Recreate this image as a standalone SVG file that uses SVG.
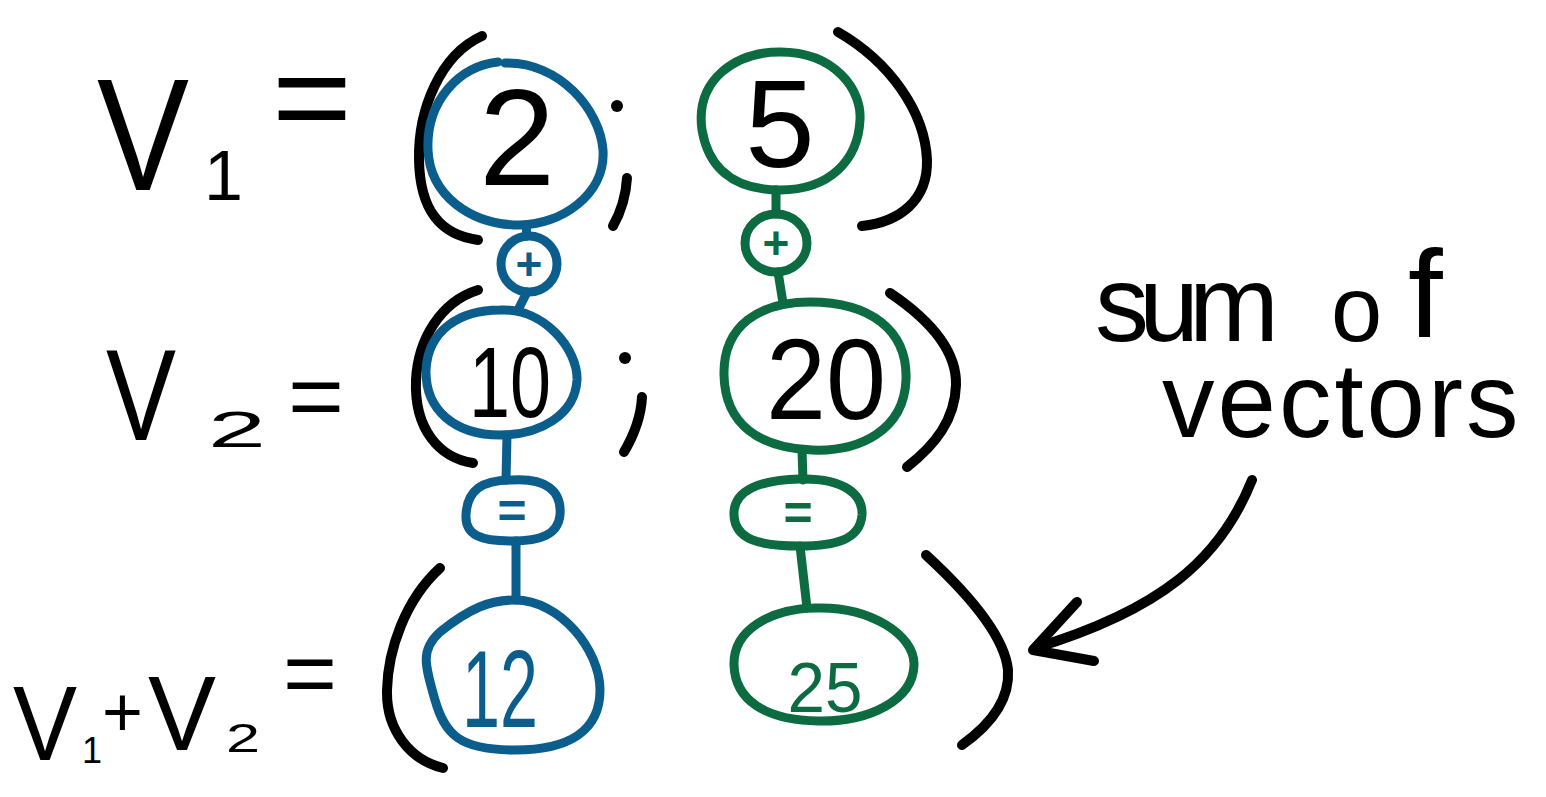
<svg xmlns="http://www.w3.org/2000/svg" width="1546" height="797" viewBox="0 0 1546 797">
<style>
.ink{fill:none;stroke:#000;stroke-width:10;stroke-linecap:round;stroke-linejoin:round}
.b{fill:none;stroke:#0b5d8c;stroke-width:9;stroke-linecap:round;stroke-linejoin:round}
.g{fill:none;stroke:#0c6b40;stroke-width:9;stroke-linecap:round;stroke-linejoin:round}
text{font-family:"Liberation Sans","DejaVu Sans",sans-serif}
.t{fill:#000}
.tb{fill:#0b5d8c}
.tg{fill:#0c6b40}
</style>
<rect width="1546" height="797" fill="#fff"/>

<g id="labels">
  <text class="t" x="97" y="190" font-size="160" textLength="92" lengthAdjust="spacingAndGlyphs">V</text>
  <text class="t" x="204" y="200" font-size="70">1</text>
  <text class="t" x="272" y="142" font-size="130" textLength="80" lengthAdjust="spacingAndGlyphs">=</text>

  <text class="t" x="106" y="440" font-size="130" textLength="70" lengthAdjust="spacingAndGlyphs">V</text>
  <text class="t" x="208" y="447" font-size="50" textLength="58" lengthAdjust="spacingAndGlyphs">2</text>
  <text class="t" x="288" y="427" font-size="90" textLength="56" lengthAdjust="spacingAndGlyphs">=</text>

  <text class="t" x="13" y="760" font-size="105" textLength="64" lengthAdjust="spacingAndGlyphs">V</text>
  <text class="t" x="82" y="763" font-size="36">1</text>
  <text class="t" x="102" y="736" font-size="70">+</text>
  <text class="t" x="148" y="750" font-size="105" textLength="68" lengthAdjust="spacingAndGlyphs">V</text>
  <text class="t" x="226" y="752" font-size="40" textLength="34" lengthAdjust="spacingAndGlyphs">2</text>
  <text class="t" x="283" y="704" font-size="90" textLength="54" lengthAdjust="spacingAndGlyphs">=</text>
</g>

<g id="brackets">
  <path class="ink" d="M482 36 C440 55 418 110 419 160 C420 210 440 235 478 240"/>
  <path class="ink" d="M838 32 C890 62 925 112 927 160 C928 200 900 222 862 226"/>
  <path class="ink" d="M478 290 C440 302 418 340 416 380 C414 430 440 458 473 463"/>
  <path class="ink" d="M890 293 C930 320 957 350 956 385 C955 420 935 445 907 467"/>
  <path class="ink" d="M440 568 C405 600 388 650 387 690 C386 730 410 760 443 768"/>
  <path class="ink" d="M926 555 C975 600 1005 640 1008 670 C1010 700 990 725 962 745"/>
  <circle cx="617" cy="106" r="6" fill="#000"/>
  <path class="ink" d="M627 178 C626 195 622 210 613 226"/>
  <circle cx="625" cy="358" r="6" fill="#000"/>
  <path class="ink" d="M642 397 C641 418 634 435 624 452"/>
</g>

<g id="connectors">
  <path class="b" d="M526 225 L527 236"/>
  <path class="b" d="M527 292 L518 310"/>
  <path class="b" d="M507 435 L506 480"/>
  <path class="b" d="M516 541 L516 600"/>
  <path class="g" d="M776 190 L776 214"/>
  <path class="g" d="M778 272 L783 303"/>
  <path class="g" d="M802 450 L803 480"/>
  <path class="g" d="M800 546 L807 608"/>
</g>

<g id="node-v1x">
  <path class="b" d="M505 63 C560 62 600 110 603 150 C606 195 560 225 520 225 C470 225 430 195 428 150 C426 100 460 66 498 62"/>
  <text class="t" x="517" y="185" font-size="137" text-anchor="middle">2</text>
</g>
<g id="node-plus-x">
  <ellipse class="b" cx="529" cy="264" rx="28" ry="28"/>
  <text class="tb" x="529" y="280" font-size="46" font-weight="bold" text-anchor="middle">+</text>
</g>
<g id="node-v2x">
  <path class="b" d="M500 310 C545 308 578 350 577 380 C575 415 540 435 500 435 C455 435 425 410 426 370 C428 330 460 310 500 310 Z"/>
  <text class="t" x="510" y="417" font-size="100" text-anchor="middle" textLength="82" lengthAdjust="spacingAndGlyphs">10</text>
</g>
<g id="node-eq-x">
  <path class="b" d="M512 480 C545 478 562 490 560 515 C558 535 540 541 512 541 C480 541 465 535 466 515 C467 490 482 480 512 480 Z"/>
  <text class="tb" x="512" y="528" font-size="50" font-weight="bold" text-anchor="middle">=</text>
</g>
<g id="node-sum-x">
  <path class="b" d="M515 600 C560 600 600 650 600 690 C600 730 570 750 515 750 C460 750 445 735 435 700 C425 665 420 650 440 632 C470 608 490 600 515 600 Z"/>
  <text class="tb" x="500" y="727" font-size="110" text-anchor="middle" textLength="76" lengthAdjust="spacingAndGlyphs">12</text>
</g>

<g id="node-v1y">
  <path class="g" d="M780 52 C835 52 862 90 860 120 C858 160 830 190 780 190 C730 190 708 165 702 130 C695 80 735 52 780 52 Z"/>
  <text class="t" x="780" y="167" font-size="125" text-anchor="middle">5</text>
</g>
<g id="node-plus-y">
  <ellipse class="g" cx="776" cy="243" rx="31" ry="29"/>
  <text class="tg" x="776" y="259" font-size="46" font-weight="bold" text-anchor="middle">+</text>
</g>
<g id="node-v2y">
  <path class="g" d="M810 302 C870 302 908 330 906 380 C904 430 860 452 812 450 C760 448 725 425 724 375 C723 325 760 302 810 302 Z"/>
  <text class="t" x="826" y="419" font-size="115" text-anchor="middle" textLength="120" lengthAdjust="spacingAndGlyphs">20</text>
</g>
<g id="node-eq-y">
  <path class="g" d="M800 479 C845 478 863 495 862 515 C860 540 835 546 800 546 C760 546 735 540 734 515 C733 490 760 480 800 479 Z"/>
  <text class="tg" x="798" y="530" font-size="50" font-weight="bold" text-anchor="middle">=</text>
</g>
<g id="node-sum-y">
  <path class="g" d="M815 608 C870 606 915 635 914 665 C913 700 870 722 818 721 C765 720 735 700 734 665 C733 630 770 609 815 608 Z"/>
  <text class="tg" x="825" y="712" font-size="70" text-anchor="middle" textLength="75" lengthAdjust="spacingAndGlyphs">25</text>
</g>

<g id="note">
  <text class="t" font-size="108"><tspan x="1095" y="341" letter-spacing="-10">sum</tspan><tspan x="1331" y="341" font-size="92">o</tspan><tspan x="1408" y="337" font-size="125">f</tspan><tspan x="1162" y="437" font-size="105" letter-spacing="3">vectors</tspan></text>
  <path class="ink" d="M1252 480 C1220 560 1160 610 1035 648"/>
  <path class="ink" d="M1077 602 L1033 650 L1094 661"/>
</g>
</svg>
